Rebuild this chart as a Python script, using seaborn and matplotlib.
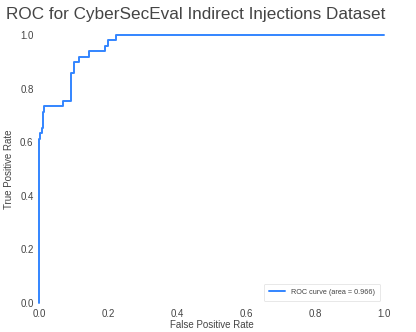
import numpy as np
import pandas as pd
import seaborn as sns
import matplotlib.pyplot as plt

# ROC points (fpr, tpr corners)
fpr = [0.0, 0.0, 0.003, 0.003, 0.008, 0.008, 0.011, 0.011, 0.0145, 0.0145,
       0.069, 0.069, 0.092, 0.092, 0.102, 0.102, 0.116, 0.116, 0.144, 0.144,
       0.192, 0.192, 0.199, 0.199, 0.223, 0.223, 1.0]
tpr = [0.0, 0.612, 0.612, 0.633, 0.633, 0.653, 0.653, 0.714, 0.714, 0.735,
       0.735, 0.755, 0.755, 0.857, 0.857, 0.898, 0.898, 0.918, 0.918, 0.939,
       0.939, 0.959, 0.959, 0.980, 0.980, 1.0, 1.0]
roc_auc = 0.966
title = "ROC for CyberSecEval Indirect Injections Dataset"

df = pd.DataFrame({"fpr": fpr, "tpr": tpr})

sns.set_style("white")
plt.rcParams["font.family"] = ["Liberation Sans", "DejaVu Sans"]

fig = plt.figure(figsize=(4.16, 3.32), dpi=100)
ax = fig.add_axes([0.094, 0.087, 0.829, 0.808])

sns.lineplot(data=df, x="fpr", y="tpr", sort=False, estimator=None,
             color="#3385ff", lw=1.4, ax=ax, clip_on=False,
             label=f"ROC curve (area = {roc_auc:.3f})")

ax.set_xlim(0.0, 1.0)
ax.set_ylim(0.0, 1.0)
ticks = [0.0, 0.2, 0.4, 0.6, 0.8, 1.0]
ax.set_xticks(ticks)
ax.set_yticks(ticks)
ax.tick_params(labelsize=7, colors="#444444", length=0, pad=4)
ax.set_xlabel("False Positive Rate", fontsize=7, color="#444444", labelpad=1)
ax.set_ylabel("True Positive Rate", fontsize=7, color="#444444", labelpad=4)
sns.despine(ax=ax, left=True, bottom=True)

leg = ax.legend(loc="lower right", fontsize=5.2, frameon=True,
                borderpad=0.7, handlelength=2.3, borderaxespad=0.3,
                bbox_to_anchor=(0.995, 0.0))
leg.get_frame().set_edgecolor("#dddddd")
leg.get_frame().set_linewidth(0.6)
for t in leg.get_texts():
    t.set_color("#444444")

fig.text(196 / 416, 1 - 14 / 332, title, ha="center", va="center",
         fontsize=12.3, color="#444444")

fig.savefig("out.png", dpi=100)
